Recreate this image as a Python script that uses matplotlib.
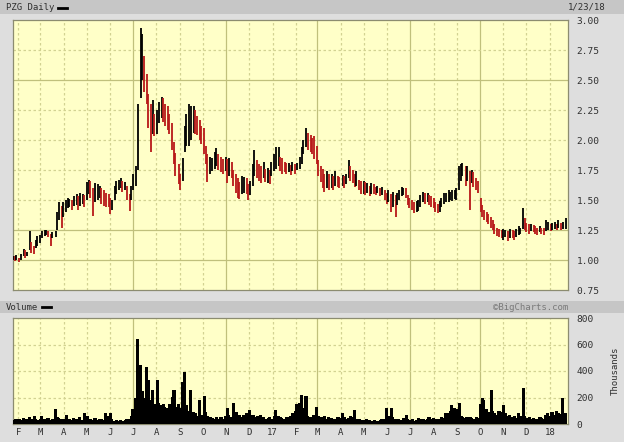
import matplotlib
matplotlib.use("Agg")
import matplotlib.pyplot as plt
from matplotlib.lines import Line2D
from matplotlib.patches import Rectangle
import numpy as np
import pandas as pd

# ---------------- data ----------------
trading_days = pd.bdate_range("2016-01-25", "2018-01-23")[::2]   # one bar per two sessions

price_low = [
    1.00, 0.99, 1.00, 0.98, 1.00, 1.03, 1.02, 1.03, 1.08, 1.06,
    1.05, 1.10, 1.12, 1.14, 1.18, 1.20, 1.21, 1.19, 1.12, 1.18,
    1.19, 1.25, 1.33, 1.27, 1.36, 1.40, 1.43, 1.44, 1.42, 1.45,
    1.46, 1.42, 1.45, 1.47, 1.44, 1.50, 1.55, 1.52, 1.37, 1.48,
    1.50, 1.52, 1.47, 1.45, 1.44, 1.44, 1.38, 1.42, 1.50, 1.55,
    1.58, 1.60, 1.57, 1.58, 1.50, 1.41, 1.50, 1.58, 1.62, 1.75,
    2.35, 2.50, 2.40, 2.30, 2.10, 1.90, 2.05, 2.03, 2.05, 2.14,
    2.18, 2.15, 2.12, 2.08, 2.05, 1.92, 1.80, 1.70, 1.63, 1.58,
    1.66, 1.90, 1.95, 1.95, 2.00, 2.06, 2.05, 2.04, 2.00, 1.97,
    1.88, 1.80, 1.65, 1.72, 1.74, 1.76, 1.78, 1.75, 1.73, 1.72,
    1.74, 1.64, 1.70, 1.68, 1.62, 1.56, 1.52, 1.51, 1.55, 1.56,
    1.55, 1.50, 1.54, 1.62, 1.70, 1.68, 1.66, 1.64, 1.68, 1.65,
    1.64, 1.63, 1.70, 1.74, 1.76, 1.78, 1.74, 1.72, 1.73, 1.72,
    1.73, 1.71, 1.74, 1.72, 1.75, 1.76, 1.80, 1.88, 1.94, 1.92,
    1.90, 1.88, 1.84, 1.80, 1.70, 1.65, 1.60, 1.57, 1.60, 1.58,
    1.60, 1.58, 1.62, 1.61, 1.60, 1.62, 1.60, 1.63, 1.68, 1.66,
    1.64, 1.61, 1.62, 1.58, 1.55, 1.55, 1.54, 1.56, 1.53, 1.55,
    1.55, 1.54, 1.56, 1.53, 1.54, 1.50, 1.47, 1.48, 1.40, 1.44,
    1.36, 1.46, 1.50, 1.53, 1.54, 1.52, 1.46, 1.43, 1.42, 1.39,
    1.40, 1.41, 1.44, 1.48, 1.47, 1.48, 1.46, 1.44, 1.43, 1.40,
    1.39, 1.40, 1.44, 1.47, 1.48, 1.48, 1.50, 1.49, 1.51, 1.50,
    1.58, 1.66, 1.70, 1.62, 1.66, 1.42, 1.64, 1.61, 1.58, 1.56,
    1.40, 1.36, 1.33, 1.32, 1.30, 1.27, 1.25, 1.22, 1.20, 1.19,
    1.18, 1.17, 1.19, 1.16, 1.18, 1.18, 1.17, 1.19, 1.21, 1.22,
    1.26, 1.25, 1.23, 1.22, 1.24, 1.23, 1.22, 1.21, 1.23, 1.22,
    1.21, 1.24, 1.25, 1.24, 1.25, 1.26, 1.25, 1.27, 1.25, 1.26,
    1.26,
]

price_high = [
    1.03, 1.03, 1.04, 1.02, 1.05, 1.09, 1.08, 1.07, 1.24, 1.15,
    1.12, 1.17, 1.20, 1.21, 1.24, 1.25, 1.25, 1.24, 1.22, 1.23,
    1.24, 1.40, 1.48, 1.45, 1.48, 1.50, 1.52, 1.51, 1.50, 1.53,
    1.55, 1.53, 1.56, 1.55, 1.54, 1.65, 1.67, 1.66, 1.60, 1.64,
    1.63, 1.62, 1.60, 1.58, 1.56, 1.55, 1.52, 1.50, 1.62, 1.66,
    1.67, 1.68, 1.66, 1.65, 1.62, 1.55, 1.62, 1.72, 1.78, 2.30,
    2.93, 2.88, 2.70, 2.55, 2.38, 2.30, 2.33, 2.22, 2.25, 2.32,
    2.36, 2.35, 2.30, 2.28, 2.22, 2.14, 1.98, 1.89, 1.80, 1.72,
    1.85, 2.12, 2.22, 2.30, 2.28, 2.28, 2.25, 2.20, 2.17, 2.12,
    2.10, 1.95, 1.88, 1.86, 1.85, 1.90, 1.93, 1.88, 1.86, 1.84,
    1.86, 1.84, 1.85, 1.82, 1.75, 1.72, 1.68, 1.65, 1.70, 1.69,
    1.68, 1.63, 1.66, 1.80, 1.92, 1.83, 1.80, 1.78, 1.82, 1.76,
    1.77, 1.75, 1.82, 1.88, 1.94, 1.94, 1.86, 1.85, 1.82, 1.81,
    1.81, 1.79, 1.82, 1.80, 1.81, 1.86, 1.94, 2.00, 2.10, 2.06,
    2.04, 2.02, 2.03, 1.95, 1.83, 1.78, 1.76, 1.72, 1.74, 1.72,
    1.72, 1.70, 1.74, 1.70, 1.69, 1.71, 1.70, 1.72, 1.83, 1.78,
    1.75, 1.72, 1.74, 1.67, 1.66, 1.66, 1.65, 1.64, 1.62, 1.64,
    1.63, 1.61, 1.62, 1.60, 1.61, 1.58, 1.56, 1.58, 1.55, 1.57,
    1.54, 1.56, 1.58, 1.61, 1.60, 1.60, 1.54, 1.52, 1.50, 1.48,
    1.49, 1.50, 1.54, 1.57, 1.56, 1.56, 1.54, 1.53, 1.52, 1.48,
    1.47, 1.49, 1.52, 1.56, 1.56, 1.58, 1.57, 1.58, 1.58, 1.60,
    1.78, 1.80, 1.81, 1.78, 1.78, 1.74, 1.75, 1.73, 1.68, 1.66,
    1.52, 1.46, 1.42, 1.40, 1.38, 1.36, 1.33, 1.30, 1.27, 1.26,
    1.25, 1.26, 1.25, 1.24, 1.26, 1.25, 1.24, 1.26, 1.28, 1.27,
    1.43, 1.35, 1.31, 1.30, 1.30, 1.29, 1.28, 1.27, 1.28, 1.27,
    1.27, 1.33, 1.32, 1.30, 1.31, 1.32, 1.30, 1.33, 1.31, 1.32,
    1.35,
]

volume_k = [
    30, 25, 40, 35, 30, 45, 30, 35, 50, 40,
    60, 35, 30, 40, 60, 35, 30, 45, 30, 40,
    110, 50, 45, 35, 40, 70, 40, 35, 30, 45,
    35, 40, 50, 30, 80, 60, 40, 35, 30, 45,
    30, 35, 40, 30, 85, 60, 85, 40, 25, 30,
    25, 30, 20, 30, 35, 40, 60, 110, 200, 640,
    445, 250, 200, 430, 330, 180, 255, 150, 330, 160,
    140, 150, 130, 120, 150, 205, 255, 130, 150, 120,
    320, 395, 140, 100, 255, 90, 80, 60, 180, 70,
    210, 90, 60, 50, 45, 40, 55, 35, 50, 40,
    60, 120, 70, 50, 155, 90, 60, 70, 50, 65,
    80, 60, 105, 70, 50, 60, 45, 70, 50, 40,
    45, 55, 40, 60, 105, 60, 50, 45, 40, 55,
    50, 60, 80, 100, 150, 155, 218, 120, 210, 60,
    55, 45, 70, 130, 60, 50, 45, 60, 40, 55,
    45, 40, 35, 50, 45, 80, 50, 40, 45, 60,
    50, 105, 40, 35, 30, 30, 25, 35, 30, 25,
    30, 25, 20, 30, 35, 40, 118, 60, 118, 50,
    35, 30, 40, 30, 45, 68, 40, 30, 35, 25,
    30, 45, 35, 40, 30, 35, 50, 40, 45, 35,
    40, 35, 50, 45, 80, 80, 100, 140, 120, 110,
    155, 60, 50, 45, 55, 50, 45, 40, 55, 45,
    150, 200, 180, 110, 90, 255, 100, 80, 70, 95,
    90, 140, 80, 60, 70, 50, 60, 45, 80, 60,
    268, 60, 45, 50, 40, 45, 40, 35, 50, 45,
    40, 65, 80, 60, 90, 70, 100, 80, 75, 195,
    80,
]

price_ticks = [0.75, 1.00, 1.25, 1.50, 1.75, 2.00, 2.25, 2.50, 2.75, 3.00]
price_solid = [1.00, 1.25, 2.50]
volume_ticks = [0, 200, 400, 600, 800]
month_starts = pd.date_range("2016-02-01", "2018-01-01", freq="MS")
month_labels = ["F", "M", "A", "M", "J", "J", "A", "S", "O", "N", "D", "17",
                "F", "M", "A", "M", "J", "J", "A", "S", "O", "N", "D", "18"]
solid_months = ["2016-07-01", "2016-11-01", "2017-03-01", "2017-07-01", "2017-10-01"]

# ---------------- figure ----------------
W, H = 624, 442
BG = "#dedede"
BAND = "#c6c6c6"
PLOT_BG = "#ffffc8"
GRID = "#d2d292"
GRID_SOLID = "#c0c07c"
TXT = "#303030"
FONT = "DejaVu Sans Mono"

n = min(len(trading_days), len(price_low), len(price_high), len(volume_k))
dates = trading_days[:n]
lo = np.array(price_low[:n])
hi = np.array(price_high[:n])
vol = np.array(volume_k[:n])
mid = (lo + hi) / 2
prev = np.concatenate([[mid[0]], mid[:-1]])
colors = np.where(mid >= prev, "#000000", "#b81818")

fig = plt.figure(figsize=(W / 100, H / 100), dpi=100, facecolor=BG)

def fy(px):
    return 1 - px / H

def fx(px):
    return px / W

# header bands
fig.patches.append(Rectangle((0, fy(14)), 1, 14 / H, transform=fig.transFigure,
                             facecolor=BAND, edgecolor="none", zorder=0))
fig.patches.append(Rectangle((0, fy(313)), 1, 12 / H, transform=fig.transFigure,
                             facecolor=BAND, edgecolor="none", zorder=0))

xmin, xmax = pd.Timestamp("2016-01-25"), pd.Timestamp("2018-01-25")

ax1 = fig.add_axes([fx(13), fy(290), fx(555), 270 / H])
ax2 = fig.add_axes([fx(13), fy(424), fx(555), 106 / H])

for ax in (ax1, ax2):
    ax.set_facecolor(PLOT_BG)
    ax.set_xlim(xmin, xmax)
    for m in month_starts:
        solid = str(m.date()) in solid_months
        ax.axvline(m, color=GRID_SOLID if solid else GRID, lw=0.9,
                   ls="-" if solid else (0, (2, 2)), zorder=1)
    for s in ax.spines.values():
        s.set_color("#8c8c70")
        s.set_linewidth(0.9)
    ax.yaxis.tick_right()
    ax.tick_params(axis="y", length=0, pad=6, labelsize=6.8, labelcolor=TXT)

# price panel
ax1.set_ylim(0.75, 3.00)
for p in price_ticks[1:-1]:
    solid = p in price_solid
    ax1.axhline(p, color=GRID_SOLID if solid else GRID, lw=0.9,
                ls="-" if solid else (0, (2, 2)), zorder=1)
ax1.vlines(dates, lo, hi, colors=colors, lw=1.3, zorder=3)
ax1.set_yticks(price_ticks)
ax1.set_yticklabels([f"{p:.2f}" for p in price_ticks], family=FONT, fontsize=6.8, color=TXT)
ax1.set_xticks([])

# volume panel
ax2.set_ylim(0, 800)
for v in volume_ticks[1:-1]:
    ax2.axhline(v, color=GRID, lw=0.9, ls=(0, (2, 2)), zorder=1)
ax2.bar(dates, vol, width=4.2, color="#000000", linewidth=0, zorder=3)
ax2.set_yticks(volume_ticks)
ax2.set_yticklabels([str(v) for v in volume_ticks], family=FONT, fontsize=6.8, color=TXT)
ax2.set_xticks(month_starts)
ax2.set_xticklabels(month_labels, family=FONT, fontsize=6.5, color=TXT)
ax2.tick_params(axis="x", length=0, pad=3)

# texts
fig.text(fx(6), fy(7.5), "PZG Daily", family=FONT, fontsize=6.5, color=TXT,
         ha="left", va="center")
fig.add_artist(Line2D([fx(58), fx(67)], [fy(7.5), fy(7.5)], color="#000000",
                      lw=2, transform=fig.transFigure))
fig.text(fx(605), fy(7.5), "1/23/18", family=FONT, fontsize=6.5, color=TXT,
         ha="right", va="center")
fig.text(fx(6), fy(307), "Volume", family=FONT, fontsize=6.5, color=TXT,
         ha="left", va="center")
fig.add_artist(Line2D([fx(42), fx(51)], [fy(307), fy(307)], color="#000000",
                      lw=2, transform=fig.transFigure))
fig.text(fx(568), fy(307), "\u00a9BigCharts.com", family=FONT, fontsize=6.5,
         color="#7a7a7a", ha="right", va="center")
fig.text(fx(615), fy(371), "Thousands", family=FONT, fontsize=6.5, color=TXT,
         rotation=90, ha="center", va="center")

fig.savefig("out.png", dpi=100, facecolor=BG)
